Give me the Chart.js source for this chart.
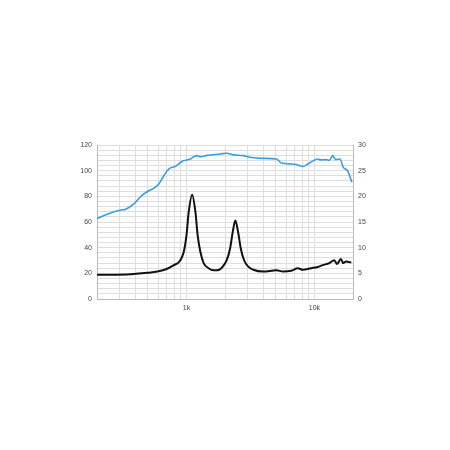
<!DOCTYPE html>
<html>
<head>
<meta charset="utf-8">
<script src="https://cdn.jsdelivr.net/npm/chart.js@4.4.1/dist/chart.umd.min.js"></script>
<style>
  html, body { margin: 0; padding: 0; background: #fff; }
  #wrap { width: 450px; height: 450px; }
</style>
</head>
<body>
<div id="wrap"><canvas id="chart" width="450" height="450"></canvas></div>
<script>
// SPL response (dB, left axis)
const splFreq = [200, 258, 308, 336, 390, 440, 496, 558, 610, 667, 729, 822, 926, 1074, 1195, 1300, 1446, 1835, 2066, 2327, 2782, 3133, 3975, 5045, 5516, 6400, 7210, 8117, 9148, 10600, 11260, 12320, 13060, 13860, 14700, 15790, 16790, 18130, 19600];
const splDb   = [62.7, 67.3, 69.4, 70, 74.3, 80, 83.8, 86.4, 89.8, 96.2, 101.4, 103.4, 107.3, 109.1, 111.7, 110.9, 111.9, 113, 113.6, 112.3, 111.7, 110.4, 109.6, 109.1, 106, 105.3, 104.8, 103.3, 106, 109.1, 108.4, 108.6, 108, 111.7, 108.6, 109.1, 102.6, 100, 91];

// Impedance (ohm, right axis)
const impFreq = [200, 368, 496, 593, 708, 797, 888, 953, 1000, 1042, 1107, 1174, 1223, 1284, 1362, 1489, 1628, 1730, 1890, 2067, 2193, 2300, 2408, 2529, 2654, 2814, 3040, 3326, 3975, 5045, 5687, 6590, 7420, 8117, 9420, 10600, 11600, 13060, 14290, 15000, 16080, 16790, 17640, 19400];
const impOhm  = [4.7, 4.84, 5.1, 5.35, 5.9, 6.6, 7.4, 9.2, 12.4, 17, 20.3, 17, 12.4, 9.2, 7.0, 6.0, 5.6, 5.6, 6.1, 7.6, 9.9, 13.1, 15.3, 13.1, 9.9, 7.6, 6.3, 5.7, 5.35, 5.6, 5.35, 5.5, 6.0, 5.7, 6.0, 6.25, 6.6, 7.0, 7.55, 6.8, 7.8, 7.0, 7.3, 7.1];

const xGridTicks = [200, 300, 400, 500, 600, 700, 800, 900, 1000, 2000, 3000, 4000, 5000, 6000, 7000, 8000, 9000, 10000, 20000];
const xLabels = { 1000: '1k', 10000: '10k' };

const tickFont = { family: 'Liberation Sans, Arial, sans-serif', size: 7 };
const tickColor = '#444';
const gridColor = '#dedede';

new Chart(document.getElementById('chart'), {
  type: 'line',
  data: {
    datasets: [
      {
        label: 'SPL',
        data: splFreq.map((f, i) => ({ x: f, y: splDb[i] })),
        yAxisID: 'yL',
        borderColor: '#3a9de0',
        borderWidth: 1.6,
        pointRadius: 0,
        cubicInterpolationMode: 'monotone'
      },
      {
        label: 'Impedance',
        data: impFreq.map((f, i) => ({ x: f, y: impOhm[i] })),
        yAxisID: 'yR',
        borderColor: '#111',
        borderWidth: 2,
        pointRadius: 0,
        cubicInterpolationMode: 'monotone'
      }
    ]
  },
  options: {
    responsive: false,
    animation: false,
    layout: { padding: { top: 145, left: 0, right: 0, bottom: 0 } },
    plugins: { legend: { display: false }, tooltip: { enabled: false } },
    scales: {
      x: {
        type: 'logarithmic',
        min: 200,
        max: 20000,
        afterBuildTicks: scale => { scale.ticks = xGridTicks.map(v => ({ value: v })); },
        afterFit: scale => { scale.height = 151; },
        grid: { color: gridColor, drawTicks: false },
        border: { color: '#bbb' },
        ticks: {
          autoSkip: false,
          maxRotation: 0,
          padding: 5,
          font: tickFont,
          color: tickColor,
          callback: v => xLabels[v] || ''
        }
      },
      yL: {
        position: 'left',
        min: 0,
        max: 120,
        afterFit: scale => { scale.width = 97; },
        grid: { drawOnChartArea: false, drawTicks: false },
        border: { color: '#bbb' },
        ticks: { stepSize: 20, padding: 5, font: tickFont, color: tickColor }
      },
      yR: {
        position: 'right',
        min: 0,
        max: 30,
        afterFit: scale => { scale.width = 97; },
        grid: { color: gridColor, drawTicks: false },
        border: { color: '#bbb' },
        ticks: {
          stepSize: 1,
          autoSkip: false,
          padding: 5,
          font: tickFont,
          color: tickColor,
          callback: v => (v % 5 === 0 ? v : '')
        }
      }
    }
  }
});
</script>
</body>
</html>
